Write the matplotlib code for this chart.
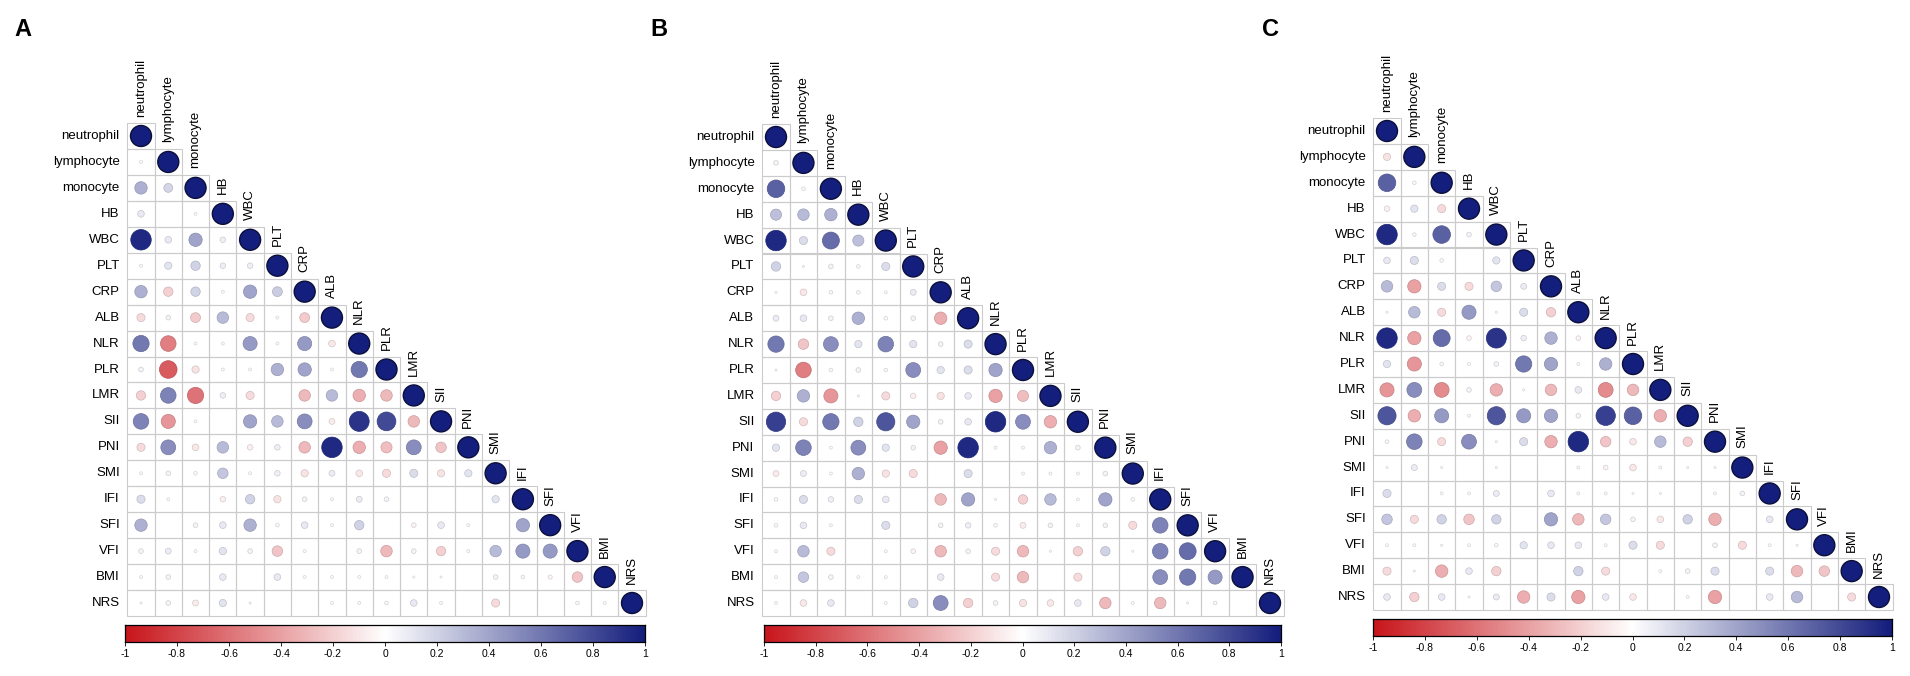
import numpy as np
import matplotlib
matplotlib.use("Agg")
import matplotlib.pyplot as plt
from matplotlib.colors import LinearSegmentedColormap, to_rgb
from matplotlib.patches import Rectangle

plt.rcParams['font.family'] = ['Liberation Sans', 'DejaVu Sans']

variables = ["neutrophil", "lymphocyte", "monocyte", "HB", "WBC", "PLT", "CRP", "ALB",
             "NLR", "PLR", "LMR", "SII", "PNI", "SMI", "IFI", "SFI", "VFI", "BMI", "NRS"]

# lower-triangle correlations (row i holds columns 0..i-1), diagonal = 1
corr_A = [
    [0.02],
    [0.35, 0.18],
    [0.10, 0.00, 0.02],
    [0.95, 0.10, 0.40, 0.07],
    [0.02, 0.12, 0.20, 0.07, 0.07],
    [0.35, -0.20, 0.20, 0.02, 0.40, 0.22],
    [-0.15, 0.05, -0.22, 0.30, -0.15, 0.02, -0.22],
    [0.60, -0.55, 0.02, 0.02, 0.45, 0.02, 0.45, -0.10],
    [0.05, -0.70, -0.12, 0.02, 0.02, 0.35, 0.40, 0.02, 0.60],
    [-0.20, 0.55, -0.60, 0.07, -0.15, 0.00, -0.30, 0.30, -0.35, -0.30],
    [0.55, -0.45, 0.02, 0.00, 0.40, 0.30, 0.50, -0.08, 0.90, 0.80, -0.30],
    [-0.15, 0.50, -0.10, 0.30, -0.07, 0.07, -0.30, 0.95, -0.35, -0.28, 0.50, -0.25],
    [0.02, 0.05, -0.03, 0.25, 0.02, 0.07, -0.12, 0.08, -0.10, -0.15, 0.15, -0.12, 0.12],
    [0.15, 0.02, 0.00, -0.07, 0.20, -0.12, 0.05, 0.02, 0.08, 0.05, 0.00, 0.00, 0.00, 0.12],
    [0.35, 0.00, 0.05, 0.10, 0.35, 0.03, 0.10, 0.02, 0.20, 0.00, -0.05, 0.10, 0.02, 0.00, 0.40],
    [0.05, 0.08, 0.02, 0.12, 0.05, -0.25, 0.02, 0.00, 0.05, -0.30, 0.05, -0.20, 0.02, 0.30, 0.45, 0.45],
    [0.02, 0.05, 0.00, 0.10, 0.00, 0.10, 0.02, 0.02, 0.02, 0.02, 0.01, 0.01, 0.00, 0.05, 0.03, -0.04, -0.25],
    [0.01, 0.05, -0.08, 0.12, 0.01, 0.00, 0.00, 0.02, 0.02, 0.03, 0.10, 0.02, 0.00, -0.15, 0.00, 0.00, 0.03, -0.02],
]

corr_B = [
    [0.05],
    [0.70, 0.03],
    [0.28, 0.30, 0.35],
    [0.95, 0.15, 0.65, 0.28],
    [0.20, 0.01, 0.05, 0.03, 0.15],
    [0.01, -0.10, 0.03, 0.03, 0.02, 0.08],
    [0.08, 0.10, 0.05, 0.35, 0.03, 0.05, -0.35],
    [0.60, -0.25, 0.50, 0.12, 0.55, 0.12, 0.05, 0.15],
    [0.01, -0.55, 0.03, 0.05, 0.03, 0.50, 0.12, 0.15, 0.40],
    [-0.20, 0.35, -0.45, 0.01, -0.15, -0.07, -0.12, 0.10, -0.40, -0.28],
    [0.85, -0.15, 0.60, 0.20, 0.75, 0.40, 0.05, 0.10, 0.95, 0.50, -0.35],
    [0.12, 0.55, 0.02, 0.50, 0.12, 0.05, -0.40, 0.95, 0.02, 0.02, 0.35, 0.05],
    [-0.08, 0.08, 0.02, 0.35, -0.12, -0.15, 0.00, 0.15, 0.00, 0.02, 0.02, 0.02, 0.05],
    [0.03, 0.15, 0.07, 0.15, 0.10, 0.00, -0.30, 0.40, 0.01, -0.20, 0.30, 0.02, 0.40, 0.03],
    [0.03, 0.10, 0.02, 0.00, 0.15, 0.00, 0.05, 0.07, 0.03, -0.08, 0.05, 0.02, 0.05, -0.15, 0.55],
    [0.02, 0.30, -0.15, 0.00, 0.02, -0.05, -0.30, 0.05, -0.15, -0.30, 0.01, -0.20, 0.20, 0.01, 0.55, 0.65],
    [0.02, 0.25, 0.05, 0.02, 0.02, 0.00, 0.10, 0.00, -0.15, -0.30, 0.00, -0.15, 0.00, 0.00, 0.50, 0.60, 0.45],
    [0.02, -0.10, 0.10, 0.00, 0.02, 0.20, 0.50, -0.20, 0.05, -0.12, -0.10, 0.10, -0.30, 0.02, -0.30, 0.01, 0.03, 0.00],
]

corr_C = [
    [-0.12],
    [0.70, 0.03],
    [-0.07, 0.12, -0.15],
    [0.95, 0.03, 0.70, 0.05],
    [0.10, 0.15, 0.03, 0.00, 0.12],
    [0.30, -0.40, 0.15, -0.15, 0.25, 0.08],
    [0.01, 0.30, -0.15, 0.45, 0.01, 0.15, -0.20],
    [0.95, -0.40, 0.65, -0.05, 0.90, 0.07, 0.35, -0.05],
    [0.12, -0.45, 0.03, 0.02, 0.05, 0.60, 0.40, 0.02, 0.35],
    [-0.45, 0.50, -0.50, 0.05, -0.35, 0.01, -0.30, 0.10, -0.50, -0.30],
    [0.75, -0.35, 0.45, 0.02, 0.75, 0.45, 0.40, 0.05, 0.85, 0.70, -0.35],
    [0.03, 0.55, -0.15, 0.50, 0.01, 0.15, -0.35, 0.95, -0.25, -0.10, 0.30, -0.20],
    [0.01, 0.08, 0.01, 0.00, 0.01, 0.00, 0.00, 0.02, -0.05, -0.10, 0.02, 0.01, 0.01],
    [0.15, 0.00, 0.02, 0.02, 0.08, 0.00, 0.10, 0.02, 0.02, 0.01, 0.01, 0.00, 0.02, 0.05],
    [0.25, -0.15, 0.20, -0.25, 0.20, 0.00, 0.40, -0.30, 0.25, 0.05, -0.10, 0.20, -0.35, 0.00, 0.10],
    [0.02, 0.02, 0.01, 0.02, 0.03, 0.12, 0.10, 0.10, 0.02, 0.15, -0.15, 0.00, 0.05, -0.15, 0.02, 0.01],
    [-0.15, 0.01, -0.35, 0.10, -0.20, 0.00, 0.00, 0.20, -0.15, 0.00, 0.02, 0.05, 0.15, 0.00, 0.15, -0.30, -0.25],
    [0.10, -0.20, 0.10, 0.01, 0.08, -0.35, 0.15, -0.40, 0.10, -0.10, 0.00, 0.02, -0.40, 0.00, 0.10, 0.30, 0.00, -0.15],
]

panel_letters = ["A", "B", "C"]
cbar_ticks = [-1, -0.8, -0.6, -0.4, -0.2, 0, 0.2, 0.4, 0.6, 0.8, 1]
cbar_labels = ["-1", "-0.8", "-0.6", "-0.4", "-0.2", "0", "0.2", "0.4", "0.6", "0.8", "1"]

W, H = 1910, 676
fig = plt.figure(figsize=(W / 100, H / 100), dpi=100)
fig.patch.set_facecolor("white")

cmap = LinearSegmentedColormap.from_list("rwb", ["#C8161C", "#FFFFFF", "#141E7C"])

# panel geometry in pixels: first/last diagonal cell centres, colourbar box, letter pos
geoms = [
    dict(x0=141, x1=632, y0=136, y1=603, cb=(125, 625, 645, 642), letter=(14, 30)),
    dict(x0=776, x1=1270, y0=137, y1=603, cb=(764, 625, 1281, 642), letter=(650, 30)),
    dict(x0=1387, x1=1879, y0=131, y1=597, cb=(1373, 619, 1892, 636), letter=(1262, 30)),
]

n = len(variables)
Rmax = 10.5  # px radius for |r| = 1


def darker(c, f=0.75):
    r, g, b = to_rgb(c)
    return (r * f, g * f, b * f)


for corr, g, letter in zip([corr_A, corr_B, corr_C], geoms, panel_letters):
    M = np.eye(n)
    for i, row in enumerate(corr, start=1):
        for j, v in enumerate(row):
            M[i, j] = v
    cw = (g["x1"] - g["x0"]) / (n - 1)
    ch = (g["y1"] - g["y0"]) / (n - 1)
    left = g["x0"] - cw / 2
    right = g["x1"] + cw / 2
    top = g["y0"] - ch / 2
    bottom = g["y1"] + ch / 2
    ax = fig.add_axes([left / W, 1 - bottom / H, (right - left) / W, (bottom - top) / H])
    ax.set_xlim(-0.5, n - 0.5)
    ax.set_ylim(n - 0.5, -0.5)
    ax.axis("off")

    # grid
    for i in range(n):
        for j in range(i + 1):
            ax.add_patch(Rectangle((j - 0.5, i - 0.5), 1, 1, facecolor="none",
                                   edgecolor="#CBCBCB", lw=0.8, clip_on=False))
    xs, ys, ss, fcs, ecs, lws = [], [], [], [], [], []
    for i in range(n):
        for j in range(i + 1):
            v = M[i, j]
            d = 2 * Rmax * np.sqrt(abs(v)) * 0.72
            xs.append(j); ys.append(i); ss.append(d ** 2)
            c = cmap((v + 1) / 2)
            fcs.append(c)
            if i == j:
                ecs.append("#0B0F3A"); lws.append(1.0)
            else:
                ecs.append(darker(c, 0.85)); lws.append(0.5)
    ax.scatter(xs, ys, s=ss, c=fcs, edgecolors=ecs, linewidths=lws, zorder=3, clip_on=False)

    # labels
    for i, name in enumerate(variables):
        ax.text(-0.5 - 0.28, i, name, ha="right", va="center", fontsize=9.5, color="black")
        ax.text(i, i - 0.5 - 0.25, name, ha="center", va="bottom", rotation=90,
                fontsize=9.5, color="black")

    # colourbar
    cx0, cy0, cx1, cy1 = g["cb"]
    cax = fig.add_axes([cx0 / W, 1 - cy1 / H, (cx1 - cx0) / W, (cy1 - cy0) / H])
    grad = np.linspace(-1, 1, 400).reshape(1, -1)
    cax.imshow(grad, cmap=cmap, vmin=-1, vmax=1, aspect="auto", extent=[-1, 1, 0, 1])
    cax.set_xlim(-1, 1)
    cax.set_yticks([])
    cax.set_xticks(cbar_ticks)
    cax.set_xticklabels(cbar_labels, fontsize=7.5)
    cax.tick_params(axis="x", length=3, width=0.6, pad=2)
    for sp in cax.spines.values():
        sp.set_linewidth(0.9)
        sp.set_color("black")

    fig.text(g["letter"][0] / W, 1 - g["letter"][1] / H, letter, fontsize=17,
             fontweight="bold", ha="left", va="center")

fig.savefig("out.png", dpi=100, facecolor="white")
